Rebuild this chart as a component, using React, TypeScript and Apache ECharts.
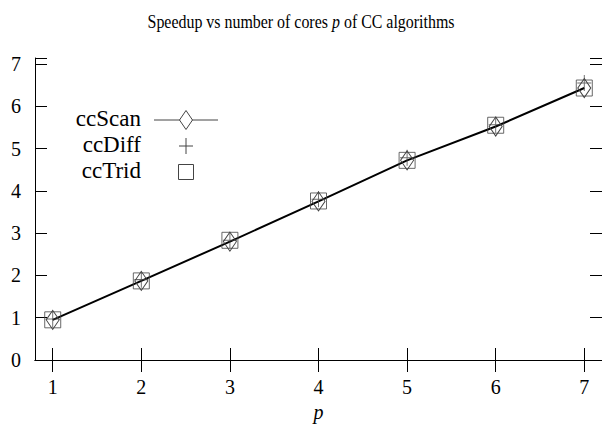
import React, { useEffect, useRef } from "react";
import * as echarts from "echarts";

const cores = [1, 2, 3, 4, 5, 6, 7];
const ccScan = [0.95, 1.87, 2.8, 3.75, 4.72, 5.52, 6.43];
const ccDiff = [0.97, 1.9, 2.83, 3.8, 4.78, 5.56, 6.55];
const ccTrid = [0.95, 1.87, 2.83, 3.76, 4.72, 5.55, 6.43];
const xTicks = [1, 2, 3, 4, 5, 6, 7];
const legendNames = ["ccScan", "ccDiff", "ccTrid"];
const titleText = "Speedup vs number of cores {i|p} of CC algorithms";

const FONT = "'Liberation Serif', 'DejaVu Serif', serif";
const MARK = "#444";

export default function App() {
  const ref = useRef<HTMLDivElement>(null);
  useEffect(() => {
    if (!ref.current) return;
    const chart = echarts.init(ref.current, undefined, { renderer: "svg" });
    const pts = (ys: number[]) => cores.map((x, i) => [x, ys[i]]);
    const axisCommon = {
      axisLine: { show: true, lineStyle: { color: "#000", width: 1 } },
      splitLine: { show: false },
    };
    const lx = 186;
    const ly = [120, 146, 172];
    chart.setOption({
      animation: false,
      backgroundColor: "#fff",
      grid: { left: 35, right: -2, top: 58, bottom: 74, containLabel: false },
      xAxis: [
        {
          type: "value",
          min: 0.8,
          max: 7.2,
          position: "bottom",
          ...axisCommon,
          name: "p",
          nameLocation: "middle",
          nameGap: 42,
          nameTextStyle: { fontFamily: FONT, fontStyle: "italic", fontSize: 20, color: "#000" },
          axisTick: { show: true, inside: true, length: 12, customValues: xTicks, lineStyle: { color: "#000" } },
          axisLabel: { show: true, customValues: xTicks, margin: 17, fontFamily: FONT, fontSize: 20, color: "#000" },
        },
        {
          type: "value",
          min: 0.8,
          max: 7.2,
          position: "top",
          ...axisCommon,
          axisTick: { show: true, inside: true, length: 12, customValues: xTicks, lineStyle: { color: "#000" } },
          axisLabel: { show: false },
        },
      ],
      yAxis: [
        {
          type: "value",
          min: 0,
          max: 7.14,
          interval: 1,
          position: "left",
          ...axisCommon,
          axisTick: { show: true, inside: true, length: 12, lineStyle: { color: "#000" } },
          axisLabel: {
            show: true,
            margin: 14,
            fontFamily: FONT,
            fontSize: 20,
            color: "#000",
            formatter: (v: number) => (v <= 7 ? String(v) : ""),
          },
        },
        {
          type: "value",
          min: 0,
          max: 7.14,
          interval: 1,
          position: "right",
          ...axisCommon,
          axisTick: { show: true, inside: true, length: 12, lineStyle: { color: "#000" } },
          axisLabel: { show: false },
        },
      ],
      series: [
        {
          name: "ccScan",
          type: "line",
          data: pts(ccScan),
          symbol: "diamond",
          symbolSize: [13, 19],
          lineStyle: { color: "#000", width: 2 },
          itemStyle: { color: "rgba(0,0,0,0)", borderColor: MARK, borderWidth: 1 },
          z: 3,
        },
        {
          name: "ccDiff",
          type: "scatter",
          data: pts(ccDiff),
          symbol: "path://M0,-8L0,8M-7,0L7,0",
          symbolSize: [14, 16],
          itemStyle: { color: "rgba(0,0,0,0)", borderColor: MARK, borderWidth: 1 },
          z: 4,
        },
        {
          name: "ccTrid",
          type: "scatter",
          data: pts(ccTrid),
          symbol: "rect",
          symbolSize: 16,
          itemStyle: { color: "rgba(0,0,0,0)", borderColor: MARK, borderWidth: 1 },
          z: 4,
        },
      ],
      graphic: [
        {
          type: "text",
          x: 301,
          y: 22,
          scaleX: 0.885,
          style: {
            text: titleText,
            font: `18px ${FONT}`,
            fill: "#000",
            textAlign: "center",
            textVerticalAlign: "middle",
            rich: { i: { fontFamily: FONT, fontSize: 18, fontStyle: "italic" } },
          },
        },
        ...legendNames.map((n, i) => ({
          type: "text",
          right: 602 - 141,
          top: ly[i] - 13,
          style: { text: n, font: `23px ${FONT}`, fill: "#000", textAlign: "right" },
        })),
        { type: "line", shape: { x1: 154, y1: ly[0], x2: 218, y2: ly[0] }, style: { stroke: MARK, lineWidth: 1 } },
        {
          type: "polygon",
          shape: { points: [[lx, ly[0] - 9.5], [lx + 6.5, ly[0]], [lx, ly[0] + 9.5], [lx - 6.5, ly[0]]] },
          style: { fill: "#fff", stroke: MARK, lineWidth: 1 },
        },
        { type: "line", shape: { x1: lx - 7, y1: ly[1], x2: lx + 7, y2: ly[1] }, style: { stroke: MARK, lineWidth: 1 } },
        { type: "line", shape: { x1: lx, y1: ly[1] - 8, x2: lx, y2: ly[1] + 8 }, style: { stroke: MARK, lineWidth: 1 } },
        {
          type: "rect",
          shape: { x: lx - 7.5, y: ly[2] - 7.5, width: 15, height: 15 },
          style: { fill: "none", stroke: MARK, lineWidth: 1 },
        },
      ],
    });
    return () => chart.dispose();
  }, []);
  return <div ref={ref} style={{ width: 602, height: 434, position: "absolute", left: 0, top: 0 }} />;
}
